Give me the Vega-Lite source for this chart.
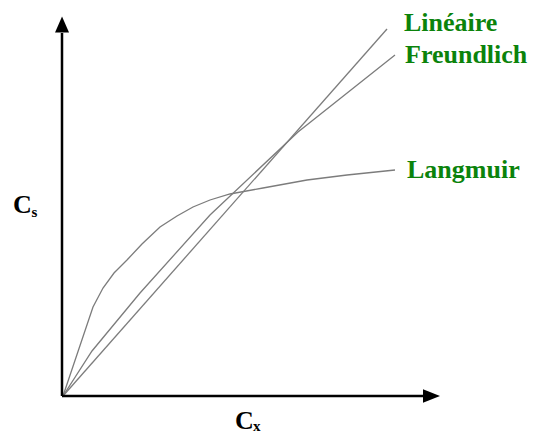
{
  "$schema": "https://vega.github.io/schema/vega-lite/v6.json",
  "width": 538,
  "height": 434,
  "padding": 0,
  "autosize": "none",
  "background": "white",
  "config": {"view": {"stroke": null}},
  "datasets": {
    "curves": [
      {"model": "Linéaire", "cx": 1, "cs": 1},
      {"model": "Linéaire", "cx": 325, "cs": 368},
      {"model": "Freundlich", "cx": 1, "cs": 1},
      {"model": "Freundlich", "cx": 30, "cs": 46},
      {"model": "Freundlich", "cx": 78, "cs": 104},
      {"model": "Freundlich", "cx": 148, "cs": 182},
      {"model": "Freundlich", "cx": 236, "cs": 265},
      {"model": "Freundlich", "cx": 333, "cs": 342},
      {"model": "Langmuir", "cx": 1, "cs": 1},
      {"model": "Langmuir", "cx": 31, "cs": 90},
      {"model": "Langmuir", "cx": 41, "cs": 109},
      {"model": "Langmuir", "cx": 52, "cs": 124},
      {"model": "Langmuir", "cx": 65, "cs": 137},
      {"model": "Langmuir", "cx": 80, "cs": 153},
      {"model": "Langmuir", "cx": 98, "cs": 170},
      {"model": "Langmuir", "cx": 115, "cs": 181},
      {"model": "Langmuir", "cx": 131, "cs": 190},
      {"model": "Langmuir", "cx": 148, "cs": 197},
      {"model": "Langmuir", "cx": 168, "cs": 203},
      {"model": "Langmuir", "cx": 201, "cs": 209},
      {"model": "Langmuir", "cx": 245, "cs": 217},
      {"model": "Langmuir", "cx": 285, "cs": 222},
      {"model": "Langmuir", "cx": 333, "cs": 227}
    ],
    "axes": [
      {"axis": "x", "cx": 0, "cs": 1, "cx2": 362, "cs2": 1},
      {"axis": "y", "cx": 0, "cs": 1, "cx2": 0, "cs2": 364}
    ],
    "arrows": [
      {"axis": "x", "cx": 369.5, "cs": 1, "dir": "right"},
      {"axis": "y", "cx": 0, "cs": 372.5, "dir": "up"}
    ],
    "labels": [
      {"text": "Linéaire", "cx": 342, "cs": 366},
      {"text": "Freundlich", "cx": 343, "cs": 334},
      {"text": "Langmuir", "cx": 345, "cs": 219}
    ],
    "titles": [
      {"text": "C", "cx": -49, "cs": 184, "sz": "big"},
      {"text": "s", "cx": -30.5, "cs": 180, "sz": "small"},
      {"text": "C", "cx": 173, "cs": -32, "sz": "big"},
      {"text": "x", "cx": 191, "cs": -34, "sz": "small"}
    ]
  },
  "layer": [
    {
      "data": {"name": "curves"},
      "mark": {"type": "line", "stroke": "#7c7c7c", "strokeWidth": 1.3},
      "encoding": {
        "x": {"field": "cx", "type": "quantitative", "scale": {"domain": [-62, 476], "nice": false, "zero": false}, "axis": null},
        "y": {"field": "cs", "type": "quantitative", "scale": {"domain": [-37, 397], "nice": false, "zero": false}, "axis": null},
        "detail": {"field": "model"},
        "order": {"field": "cx"}
      }
    },
    {
      "data": {"name": "axes"},
      "mark": {"type": "rule", "stroke": "black", "strokeWidth": 2.5},
      "encoding": {
        "x": {"field": "cx", "type": "quantitative"},
        "y": {"field": "cs", "type": "quantitative"},
        "x2": {"field": "cx2"},
        "y2": {"field": "cs2"}
      }
    },
    {
      "data": {"name": "arrows"},
      "transform": [{"filter": "datum.dir === 'right'"}],
      "mark": {"type": "point", "shape": "M-1,-0.8L1,0L-1,0.8Z", "size": 289, "filled": true, "fill": "black", "stroke": null, "opacity": 1},
      "encoding": {
        "x": {"field": "cx", "type": "quantitative"},
        "y": {"field": "cs", "type": "quantitative"}
      }
    },
    {
      "data": {"name": "arrows"},
      "transform": [{"filter": "datum.dir === 'up'"}],
      "mark": {"type": "point", "shape": "M-0.875,1L0,-1L0.875,1Z", "size": 256, "filled": true, "fill": "black", "stroke": null, "opacity": 1},
      "encoding": {
        "x": {"field": "cx", "type": "quantitative"},
        "y": {"field": "cs", "type": "quantitative"}
      }
    },
    {
      "data": {"name": "labels"},
      "mark": {"type": "text", "font": "Liberation Serif", "fontWeight": "bold", "fontSize": 26, "fill": "#0b830b", "align": "left", "baseline": "alphabetic"},
      "encoding": {
        "x": {"field": "cx", "type": "quantitative"},
        "y": {"field": "cs", "type": "quantitative"},
        "text": {"field": "text"}
      }
    },
    {
      "data": {"name": "titles"},
      "transform": [{"filter": "datum.sz === 'big'"}],
      "mark": {"type": "text", "font": "Liberation Serif", "fontWeight": "bold", "fontSize": 26, "fill": "black", "align": "left", "baseline": "alphabetic"},
      "encoding": {
        "x": {"field": "cx", "type": "quantitative"},
        "y": {"field": "cs", "type": "quantitative"},
        "text": {"field": "text"}
      }
    },
    {
      "data": {"name": "titles"},
      "transform": [{"filter": "datum.sz === 'small'"}],
      "mark": {"type": "text", "font": "Liberation Serif", "fontWeight": "bold", "fontSize": 15, "fill": "black", "align": "left", "baseline": "alphabetic"},
      "encoding": {
        "x": {"field": "cx", "type": "quantitative"},
        "y": {"field": "cs", "type": "quantitative"},
        "text": {"field": "text"}
      }
    }
  ]
}
